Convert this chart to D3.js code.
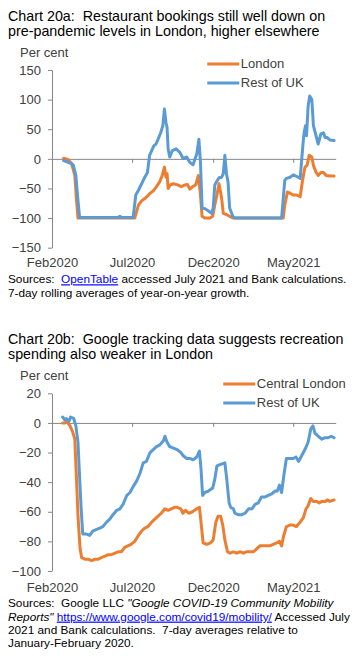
<!DOCTYPE html>
<html>
<head>
<meta charset="utf-8">
<script src="https://cdn.jsdelivr.net/npm/d3@7"></script>
<style>
  html, body { margin: 0; padding: 0; background: #fff; }
  svg { display: block; font-family: "Liberation Sans", Arial, sans-serif; }
  text { white-space: pre; }
</style>
</head>
<body>
<svg id="chart" width="355" height="658"></svg>
<script>
// ---------- DATA ----------
const xTickDates = ["2020-02-01", "2020-07-01", "2020-12-01", "2021-05-01"];
const xTickLabels = ["Feb2020", "Jul2020", "Dec2020", "May2021"];

const yTicksA = [150, 100, 50, 0, -50, -100, -150];
const yTicksB = [20, 0, -20, -40, -60, -80, -100];

const seriesNamesA = ["London", "Rest of UK"];
const seriesNamesB = ["Central London", "Rest of UK"];

// Chart 20a: OpenTable restaurant bookings, % yoy (7-day avg)
const londonBookings = [
  ["2020-02-23",1],["2020-03-02",-1],["2020-03-09",-8],["2020-03-15",-28],["2020-03-18",-67],["2020-03-21",-100],
  ["2020-07-06",-100],["2020-07-13",-78],["2020-07-19",-71],["2020-07-25",-67],["2020-07-31",-62],["2020-08-04",-58],
  ["2020-08-10",-54],["2020-08-16",-47],["2020-08-22",-39],["2020-08-27",-28],["2020-08-31",-14],["2020-09-03",-31],
  ["2020-09-05",-25],["2020-09-07",-50],["2020-09-11",-44],["2020-09-17",-42],["2020-09-25",-44],["2020-10-02",-47],
  ["2020-10-09",-44],["2020-10-13",-43],["2020-10-18",-51],["2020-10-23",-47],["2020-10-29",-44],["2020-11-03",-28],
  ["2020-11-07",-61],["2020-11-10",-97],["2020-11-15",-100],["2020-11-25",-100],["2020-11-30",-97],["2020-12-04",-78],
  ["2020-12-08",-61],["2020-12-12",-42],["2020-12-17",-67],["2020-12-20",-92],["2020-12-26",-94],["2021-01-01",-97],
  ["2021-01-08",-100],["2021-04-12",-100],["2021-04-15",-78],["2021-04-20",-56],["2021-04-25",-58],["2021-05-01",-61],
  ["2021-05-07",-61],["2021-05-14",-64],["2021-05-18",-39],["2021-05-23",-14],["2021-05-27",-11],["2021-05-31",6],
  ["2021-06-05",3],["2021-06-08",-11],["2021-06-13",-23],["2021-06-17",-28],["2021-06-22",-23],["2021-06-27",-23],
  ["2021-07-02",-28],["2021-07-09",-29],["2021-07-17",-29]
];
const restUkBookings = [
  ["2020-02-23",-3],["2020-03-06",-7],["2020-03-12",-10],["2020-03-17",-28],["2020-03-20",-61],["2020-03-24",-99],
  ["2020-04-20",-99],["2020-06-05",-99],["2020-06-08",-97],["2020-06-12",-99],["2020-07-03",-99],["2020-07-08",-61],
  ["2020-07-13",-53],["2020-07-19",-42],["2020-07-25",-31],["2020-07-30",-23],["2020-08-03",6],["2020-08-07",14],
  ["2020-08-11",22],["2020-08-15",25],["2020-08-19",33],["2020-08-24",44],["2020-08-28",56],["2020-08-31",84],
  ["2020-09-03",61],["2020-09-05",53],["2020-09-07",17],["2020-09-10",3],["2020-09-15",14],["2020-09-22",17],
  ["2020-09-29",11],["2020-10-05",1],["2020-10-12",3],["2020-10-18",-6],["2020-10-24",-10],["2020-10-31",8],
  ["2020-11-04",33],["2020-11-07",-6],["2020-11-10",-83],["2020-11-15",-84],["2020-11-22",-88],["2020-11-28",-92],
  ["2020-12-01",-83],["2020-12-04",-44],["2020-12-07",-39],["2020-12-12",-32],["2020-12-17",-31],["2020-12-20",-25],
  ["2020-12-23",6],["2020-12-26",-25],["2020-12-29",-39],["2021-01-01",-83],["2021-01-07",-97],["2021-01-11",-100],
  ["2021-04-09",-100],["2021-04-15",-36],["2021-04-18",-33],["2021-04-25",-31],["2021-05-01",-27],["2021-05-06",-29],
  ["2021-05-14",-33],["2021-05-18",11],["2021-05-21",42],["2021-05-24",56],["2021-05-26",39],["2021-05-29",89],
  ["2021-06-01",106],["2021-06-05",100],["2021-06-08",56],["2021-06-13",39],["2021-06-17",25],["2021-06-22",42],
  ["2021-06-27",44],["2021-06-30",36],["2021-07-04",36],["2021-07-09",32],["2021-07-17",31]
];

// Chart 20b: Google mobility, retail & recreation (7-day avg vs Jan-Feb 2020)
const centralLondonMobility = [
  ["2020-02-21",0],["2020-02-25",0],["2020-02-29",1],["2020-03-06",-2],["2020-03-11",-6],["2020-03-15",-11],
  ["2020-03-18",-36],["2020-03-21",-63],["2020-03-25",-85],["2020-03-28",-91],["2020-04-03",-92],["2020-04-09",-92],
  ["2020-04-16",-93],["2020-04-22",-92],["2020-04-28",-92],["2020-05-04",-91],["2020-05-11",-90],["2020-05-17",-89],
  ["2020-05-23",-89],["2020-05-30",-88],["2020-06-05",-87],["2020-06-11",-87],["2020-06-17",-84],["2020-06-23",-83],
  ["2020-06-29",-82],["2020-07-06",-80],["2020-07-13",-76],["2020-07-19",-73],["2020-07-25",-71],["2020-07-31",-70],
  ["2020-08-07",-67],["2020-08-13",-65],["2020-08-19",-63],["2020-08-25",-61],["2020-09-01",-58],["2020-09-07",-59],
  ["2020-09-13",-58],["2020-09-19",-57],["2020-09-24",-57],["2020-10-01",-58],["2020-10-05",-61],["2020-10-10",-59],
  ["2020-10-16",-61],["2020-10-23",-60],["2020-10-31",-58],["2020-11-05",-57],["2020-11-08",-67],["2020-11-12",-81],
  ["2020-11-19",-82],["2020-11-26",-81],["2020-12-01",-79],["2020-12-06",-67],["2020-12-10",-63],["2020-12-15",-63],
  ["2020-12-19",-69],["2020-12-23",-79],["2020-12-28",-87],["2021-01-02",-88],["2021-01-08",-87],["2021-01-14",-88],
  ["2021-01-21",-87],["2021-01-27",-88],["2021-02-02",-87],["2021-02-09",-87],["2021-02-15",-87],["2021-02-21",-85],
  ["2021-02-27",-83],["2021-03-06",-83],["2021-03-12",-83],["2021-03-18",-83],["2021-03-24",-82],["2021-03-31",-81],
  ["2021-04-05",-80],["2021-04-09",-83],["2021-04-13",-76],["2021-04-18",-70],["2021-04-25",-69],["2021-05-01",-69],
  ["2021-05-07",-70],["2021-05-14",-67],["2021-05-20",-64],["2021-05-25",-58],["2021-05-29",-56],["2021-06-03",-51],
  ["2021-06-08",-53],["2021-06-14",-53],["2021-06-19",-54],["2021-06-24",-53],["2021-06-30",-53],["2021-07-04",-52],
  ["2021-07-09",-53],["2021-07-17",-52]
];
const restUkMobility = [
  ["2020-02-21",4],["2020-02-25",2],["2020-02-28",3],["2020-03-04",1],["2020-03-07",4],["2020-03-13",3],
  ["2020-03-17",-2],["2020-03-21",-13],["2020-03-24",-36],["2020-03-27",-58],["2020-03-30",-75],["2020-04-05",-75],
  ["2020-04-12",-76],["2020-04-18",-73],["2020-04-24",-72],["2020-05-01",-71],["2020-05-07",-70],["2020-05-14",-67],
  ["2020-05-20",-65],["2020-05-26",-62],["2020-06-02",-59],["2020-06-08",-58],["2020-06-14",-55],["2020-06-21",-49],
  ["2020-06-27",-47],["2020-07-03",-43],["2020-07-10",-39],["2020-07-16",-34],["2020-07-22",-27],["2020-07-28",-26],
  ["2020-08-04",-20],["2020-08-10",-18],["2020-08-16",-16],["2020-08-22",-15],["2020-08-29",-12],["2020-09-01",-9],
  ["2020-09-05",-13],["2020-09-10",-16],["2020-09-17",-17],["2020-09-24",-18],["2020-10-01",-20],["2020-10-05",-22],
  ["2020-10-12",-24],["2020-10-18",-24],["2020-10-24",-25],["2020-10-31",-23],["2020-11-05",-19],["2020-11-08",-31],
  ["2020-11-11",-49],["2020-11-15",-47],["2020-11-22",-46],["2020-11-30",-44],["2020-12-04",-38],["2020-12-08",-29],
  ["2020-12-15",-28],["2020-12-23",-27],["2020-12-26",-36],["2020-12-31",-54],["2021-01-03",-57],["2021-01-08",-58],
  ["2021-01-11",-61],["2021-01-17",-62],["2021-01-24",-62],["2021-01-30",-61],["2021-02-06",-58],["2021-02-12",-58],
  ["2021-02-18",-55],["2021-02-24",-54],["2021-03-02",-50],["2021-03-09",-50],["2021-03-15",-49],["2021-03-21",-48],
  ["2021-03-28",-46],["2021-04-01",-46],["2021-04-05",-42],["2021-04-09",-47],["2021-04-13",-36],["2021-04-18",-24],
  ["2021-04-25",-24],["2021-05-01",-24],["2021-05-06",-23],["2021-05-11",-26],["2021-05-17",-22],["2021-05-23",-18],
  ["2021-05-29",-13],["2021-06-03",-4],["2021-06-07",-2],["2021-06-11",-7],["2021-06-17",-9],["2021-06-24",-11],
  ["2021-06-30",-10],["2021-07-06",-10],["2021-07-12",-9],["2021-07-17",-10]
];

// ---------- DRAWING ----------
const parse = d3.timeParse("%Y-%m-%d");
const ORANGE = "#ED7D31", BLUE = "#5B9BD5", AXIS = "#868686", LABEL = "#404040";
const svg = d3.select("#chart");

const x = d3.scaleTime()
  .domain([parse("2020-02-01"), parse("2021-07-20")])
  .range([52, 335.7]);

function drawPanel(cfg) {
  const g = svg.append("g");
  const y = d3.scaleLinear().domain(cfg.yDomain).range(cfg.yRange);

  // title
  cfg.title.forEach((line, i) => {
    g.append("text").attr("font-size", 14.3).attr("fill", "#000")
      .attr("x", 8).attr("y", cfg.titleY + i * 15).text(line);
  });

  // "Per cent"
  g.append("text").attr("x", 20).attr("y", cfg.perCentY)
    .attr("font-size", 13).attr("fill", LABEL).text("Per cent");

  // y axis
  const ya = g.append("g").attr("transform", "translate(52,0)")
    .call(d3.axisLeft(y).tickValues(cfg.yTicks).tickSize(4).tickSizeOuter(0).tickPadding(7));
  ya.select(".domain").attr("stroke", AXIS);
  ya.selectAll(".tick line").attr("stroke", AXIS);
  ya.selectAll("text").attr("font-size", 13).attr("fill", LABEL)
    .attr("font-family", "Liberation Sans, Arial, sans-serif");

  // zero-line x axis with ticks
  const xa = g.append("g").attr("transform", `translate(0,${y(0)})`)
    .call(d3.axisBottom(x).tickValues(xTickDates.map(parse)).tickFormat("").tickSize(4).tickSizeOuter(0));
  xa.select(".domain").attr("stroke", AXIS);
  xa.selectAll(".tick line").attr("stroke", AXIS);

  // bottom labels
  const xl = g.append("g").attr("transform", `translate(0,${cfg.xLabelY})`)
    .call(d3.axisBottom(x).tickValues(xTickDates.map(parse))
      .tickFormat((d, i) => xTickLabels[i]).tickSize(0).tickPadding(0));
  xl.select(".domain").remove();
  xl.selectAll("text").attr("y", 0).attr("dy", 0).attr("font-size", 13).attr("fill", LABEL)
    .attr("font-family", "Liberation Sans, Arial, sans-serif");

  // lines
  const line = d3.line().x(d => x(parse(d[0]))).y(d => y(d[1]));
  [[cfg.orange, ORANGE], [cfg.blue, BLUE]].forEach(([data, col]) => {
    g.append("path").datum(data).attr("d", line).attr("fill", "none")
      .attr("stroke", col).attr("stroke-width", 3)
      .attr("stroke-linejoin", "round").attr("stroke-linecap", "round");
  });

  // legend
  const cols = [ORANGE, BLUE];
  cfg.legendNames.forEach((name, i) => {
    const ly = cfg.legendY + i * 19;
    g.append("line").attr("x1", cfg.legendX).attr("x2", cfg.legendX + 32)
      .attr("y1", ly).attr("y2", ly).attr("stroke", cols[i]).attr("stroke-width", 3);
    g.append("text").attr("x", cfg.legendX + 33.5).attr("y", ly + 4)
      .attr("font-size", 13).attr("fill", LABEL).text(name);
  });

  // footnote
  const fn = g.append("g").attr("font-size", 11.8).attr("fill", "#000");
  cfg.foot.forEach((parts, i) => {
    const tx = fn.append("text").attr("x", 8).attr("y", cfg.footY + i * 13.3);
    parts.forEach(p => {
      const ts = tx.append("tspan").text(p.t);
      if (p.link) ts.attr("fill", "#0000FF").attr("text-decoration", "underline");
      if (p.it) ts.attr("font-style", "italic");
    });
  });
}

drawPanel({
  title: ["Chart 20a:  Restaurant bookings still well down on", "pre-pandemic levels in London, higher elsewhere"],
  titleY: 20.7,
  perCentY: 56.5,
  yDomain: [-150, 150], yRange: [247.7, 70], yTicks: yTicksA,
  xLabelY: 267.3,
  orange: londonBookings, blue: restUkBookings,
  legendNames: seriesNamesA, legendX: 207.3, legendY: 64,
  footY: 283.3,
  foot: [
    [{t: "Sources:  "}, {t: "OpenTable", link: true}, {t: " accessed July 2021 and Bank calculations."}],
    [{t: "7-day rolling averages of year-on-year growth."}]
  ]
});

drawPanel({
  title: ["Chart 20b:  Google tracking data suggests recreation", "spending also weaker in London"],
  titleY: 344.3,
  perCentY: 380,
  yDomain: [-100, 20], yRange: [571, 393.3], yTicks: yTicksB,
  xLabelY: 591.7,
  orange: centralLondonMobility, blue: restUkMobility,
  legendNames: seriesNamesB, legendX: 223.3, legendY: 384,
  footY: 607.3,
  foot: [
    [{t: "Sources:  Google LLC "}, {t: "\"Google COVID-19 Community Mobility", it: true}],
    [{t: "Reports\"", it: true}, {t: " "}, {t: "https://www.google.com/covid19/mobility/", link: true}, {t: " Accessed July"}],
    [{t: "2021 and Bank calculations.  7-day averages relative to"}],
    [{t: "January-February 2020."}]
  ]
});
</script>
</body>
</html>
